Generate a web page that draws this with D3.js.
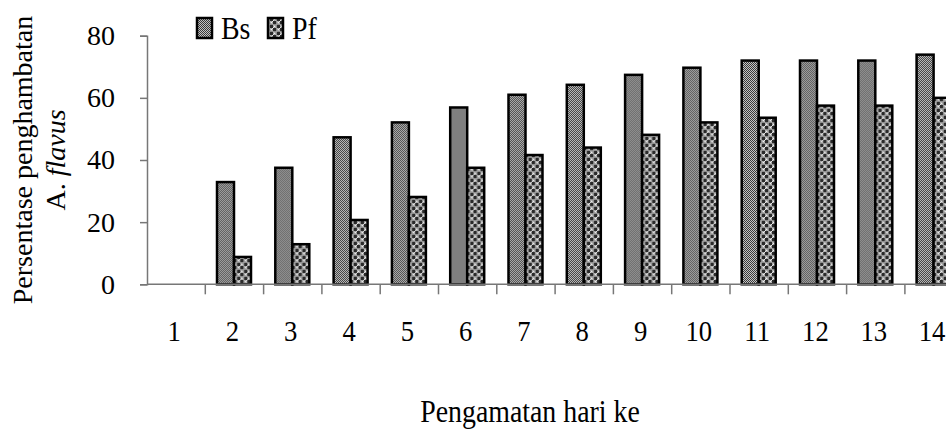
<!DOCTYPE html>
<html>
<head>
<meta charset="utf-8">
<script src="https://cdn.jsdelivr.net/npm/d3@7"></script>
<style>
  html, body { margin: 0; padding: 0; background: #fff; }
  svg { display: block; }
  svg text { font-family: "Times New Roman", "Liberation Serif", Tinos, "Nimbus Roman", Times, serif; fill: #000; }
</style>
</head>
<body>
<svg id="chart" width="946" height="430"></svg>
<script>
const categories = ["1","2","3","4","5","6","7","8","9","10","11","12","13","14"];
const seriesNames = ["Bs", "Pf"];
const bsValues = [0, 32.9, 37.5, 47.3, 52.1, 56.9, 61.0, 64.2, 67.4, 69.7, 72.0, 72.0, 72.0, 73.9];
const pfValues = [0, 8.8, 12.9, 20.7, 28.1, 37.5, 41.6, 44.0, 48.1, 52.1, 53.6, 57.5, 57.5, 60.0];
const yTicks = [0, 20, 40, 60, 80];

const FONT = '"Times New Roman", "Liberation Serif", Tinos, "Nimbus Roman", Times, serif';
const SX = 0.87;
const svg = d3.select("#chart");
const defs = svg.append("defs");

// Bs pattern: fine gray dot texture
const pBs = defs.append("pattern").attr("id", "patBs").attr("patternUnits", "userSpaceOnUse")
  .attr("width", 2).attr("height", 2);
pBs.append("rect").attr("width", 2).attr("height", 2).attr("fill", "#c4c4c4");
pBs.append("rect").attr("x", 0).attr("y", 0).attr("width", 1).attr("height", 1).attr("fill", "#3a3a3a");
pBs.append("rect").attr("x", 1).attr("y", 1).attr("width", 1).attr("height", 1).attr("fill", "#3a3a3a");

// Pf pattern: checker of dark squares and small open circles
const T = 7, H = T / 2;
const pPf = defs.append("pattern").attr("id", "patPf").attr("patternUnits", "userSpaceOnUse")
  .attr("width", T).attr("height", T);
pPf.append("rect").attr("width", T).attr("height", T).attr("fill", "#fff");
pPf.append("rect").attr("x", 0).attr("y", 0).attr("width", H).attr("height", H).attr("fill", "#2a2a2a");
pPf.append("rect").attr("x", H).attr("y", H).attr("width", H).attr("height", H).attr("fill", "#2a2a2a");
pPf.append("circle").attr("cx", H + H / 2).attr("cy", H / 2).attr("r", 1.25).attr("fill", "#fff").attr("stroke", "#777").attr("stroke-width", 0.9);
pPf.append("circle").attr("cx", H / 2).attr("cy", H + H / 2).attr("r", 1.25).attr("fill", "#fff").attr("stroke", "#777").attr("stroke-width", 0.9);

const fills = { Bs: "url(#patBs)", Pf: "url(#patPf)" };

const x0 = 147, bandW = 58.3;
const x = d3.scaleBand().domain(categories).range([x0, x0 + bandW * categories.length]).paddingInner(0).paddingOuter(0);
const xs = d3.scaleBand().domain(seriesNames).range([11.7, 11.7 + 34]).padding(0);
const y = d3.scaleLinear().domain([0, 80]).range([284.3, 35.7]);

const data = categories.map((c, i) => ({ cat: c, Bs: bsValues[i], Pf: pfValues[i] }));

// Bars
const groups = svg.append("g").selectAll("g").data(data).join("g")
  .attr("transform", d => `translate(${x(d.cat)},0)`);
groups.selectAll("rect").data(d => seriesNames.map(s => ({ s, v: d[s] })).filter(e => e.v > 0)).join("rect")
  .attr("x", d => xs(d.s))
  .attr("width", xs.bandwidth())
  .attr("y", d => y(d.v))
  .attr("height", d => y(0) - y(d.v))
  .attr("fill", d => fills[d.s])
  .attr("stroke", "#000")
  .attr("stroke-width", 2.5);

// Y axis
const yAxis = d3.axisLeft(y).tickValues(yTicks).tickSize(7).tickPadding(25).tickFormat(d3.format("d"));
const gy = svg.append("g").attr("transform", `translate(${x0},0)`).call(yAxis);
gy.attr("font-family", FONT).attr("font-size", 28);
gy.select(".domain").attr("stroke", "#777").attr("stroke-width", 1.5);
gy.selectAll(".tick line").attr("stroke", "#777").attr("stroke-width", 1.5);
gy.selectAll(".tick text").attr("fill", "#000");

// X axis
const gx = svg.append("g").attr("transform", `translate(0,${y(0)})`);
gx.append("line").attr("x1", x0).attr("x2", x.range()[1]).attr("y1", 0).attr("y2", 0)
  .attr("stroke", "#777").attr("stroke-width", 1.5);
gx.selectAll(".sep").data(categories).join("line").attr("class", "sep")
  .attr("x1", d => x(d) + bandW).attr("x2", d => x(d) + bandW)
  .attr("y1", 0).attr("y2", 10).attr("stroke", "#777").attr("stroke-width", 1.5);
gx.selectAll(".lab").data(categories).join("text").attr("class", "lab")
  .attr("transform", d => `translate(${x(d) + x.bandwidth() / 2 - 2},57) scale(${SX + 0.05},1)`)
  .attr("text-anchor", "middle").attr("font-size", 29).text(d => d);

// X title
svg.append("text").attr("transform", `translate(530,422) scale(${SX},1)`).attr("text-anchor", "middle")
  .attr("font-size", 32).text("Pengamatan hari ke");

// Y title
const yt = svg.append("text").attr("transform", "translate(0,160) rotate(-90)").attr("text-anchor", "middle").attr("font-size", 28);
yt.append("tspan").attr("x", 0).attr("y", 32).text("Persentase penghambatan");
const t2 = yt.append("tspan").attr("x", 0).attr("y", 65);
t2.append("tspan").text("A. ");
t2.append("tspan").attr("font-style", "italic").text("flavus");

// Legend
const leg = svg.append("g");
const legX = [197, 268];
seriesNames.forEach((s, i) => {
  leg.append("rect").attr("x", legX[i]).attr("y", 18).attr("width", 15).attr("height", 20)
    .attr("fill", fills[s]).attr("stroke", "#000").attr("stroke-width", 2.5);
  leg.append("text").attr("transform", `translate(${legX[i] + 24},39) scale(${SX},1)`)
    .attr("font-size", 32).text(s);
});
</script>
</body>
</html>
